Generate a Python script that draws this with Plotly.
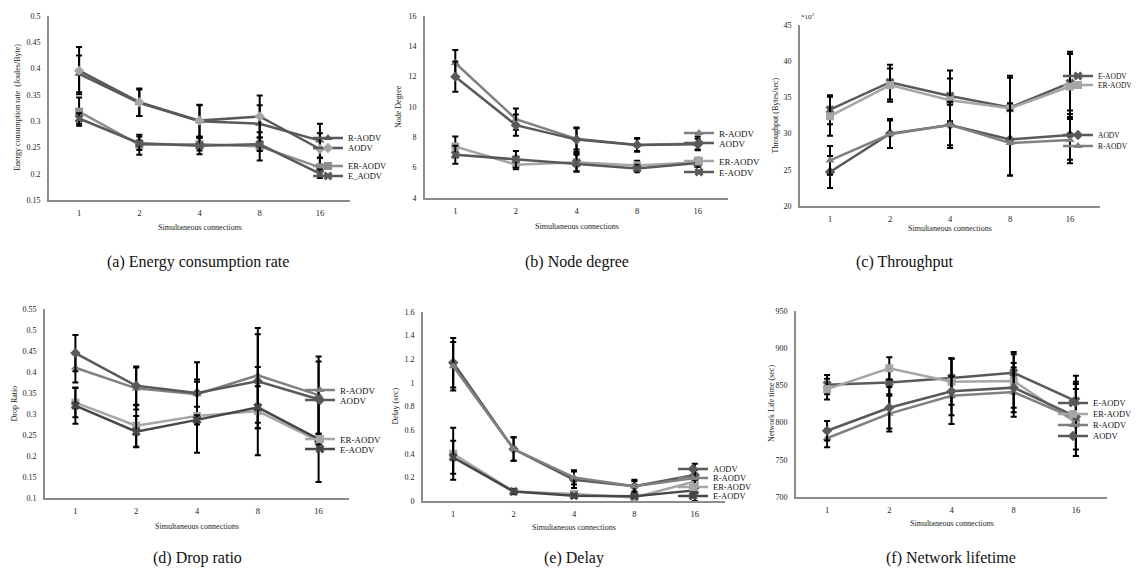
import plotly.graph_objects as go

OFF = 8  # page body margin in the browser
W, H = 1139 - OFF, 571 - OFF
CATS = ["1", "2", "4", "8", "16"]

# (a) Energy consumption rate
energy_r_aodv = [0.390, 0.335, 0.300, 0.295, 0.263]
energy_r_aodv_err = [0.035, 0.025, 0.030, 0.035, 0.032]
energy_aodv = [0.396, 0.336, 0.301, 0.309, 0.247]
energy_aodv_err = [0.045, 0.026, 0.030, 0.040, 0.030]
energy_er_aodv = [0.318, 0.255, 0.256, 0.252, 0.212]
energy_er_aodv_err = [0.027, 0.019, 0.012, 0.027, 0.018]
energy_e_aodv = [0.305, 0.258, 0.253, 0.256, 0.200]
energy_e_aodv_err = [0.010, 0.013, 0.016, 0.013, 0.008]

# (b) Node degree
degree_r_aodv = [12.9, 9.2, 7.9, 7.5, 7.6]
degree_r_aodv_err = [0.85, 0.7, 0.7, 0.45, 0.45]
degree_aodv = [12.0, 8.8, 7.85, 7.5, 7.55]
degree_aodv_err = [1.0, 0.7, 0.8, 0.4, 0.35]
degree_er_aodv = [7.4, 6.2, 6.35, 6.15, 6.35]
degree_er_aodv_err = [0.65, 0.3, 0.6, 0.3, 0.3]
degree_e_aodv = [6.85, 6.55, 6.3, 5.95, 6.3]
degree_e_aodv_err = [0.6, 0.55, 0.55, 0.25, 0.25]

# (c) Throughput (*10^3 Bytes/sec)
thr_e_aodv = [33.3, 37.1, 35.2, 33.6, 37.0]
thr_e_aodv_err = [2.0, 2.4, 3.5, 4.4, 4.3]
thr_er_aodv = [32.4, 36.7, 34.6, 33.5, 36.5]
thr_er_aodv_err = [2.7, 2.3, 3.0, 4.2, 4.5]
thr_aodv = [24.7, 30.0, 31.2, 29.2, 29.8]
thr_aodv_err = [2.2, 2.0, 3.2, 5.0, 3.4]
thr_r_aodv = [26.3, 29.9, 31.2, 28.7, 29.1]
thr_r_aodv_err = [2.0, 1.9, 2.8, 4.5, 3.2]

# (d) Drop ratio
drop_r_aodv = [0.410, 0.361, 0.347, 0.392, 0.345]
drop_r_aodv_err = [0.035, 0.050, 0.030, 0.113, 0.092]
drop_aodv = [0.445, 0.367, 0.350, 0.378, 0.335]
drop_aodv_err = [0.043, 0.046, 0.073, 0.112, 0.090]
drop_er_aodv = [0.327, 0.272, 0.295, 0.307, 0.236]
drop_er_aodv_err = [0.035, 0.050, 0.087, 0.105, 0.098]
drop_e_aodv = [0.320, 0.258, 0.286, 0.316, 0.240]
drop_e_aodv_err = [0.043, 0.037, 0.011, 0.050, 0.013]

# (e) Delay
delay_aodv = [1.17, 0.44, 0.18, 0.125, 0.22]
delay_aodv_err = [0.21, 0.10, 0.07, 0.055, 0.095]
delay_r_aodv = [1.14, 0.44, 0.20, 0.125, 0.195]
delay_r_aodv_err = [0.205, 0.10, 0.06, 0.045, 0.07]
delay_er_aodv = [0.40, 0.08, 0.06, 0.03, 0.165]
delay_er_aodv_err = [0.22, 0.02, 0.02, 0.01, 0.10]
delay_e_aodv = [0.37, 0.08, 0.045, 0.04, 0.09]
delay_e_aodv_err = [0.14, 0.02, 0.015, 0.01, 0.09]

# (f) Network lifetime
life_e_aodv = [851, 854, 860, 867, 829]
life_e_aodv_err = [13, 16, 26, 28, 34]
life_er_aodv = [845, 873, 855, 856, 800]
life_er_aodv_err = [14, 15, 31, 36, 45]
life_r_aodv = [779, 812, 836, 841, 805]
life_r_aodv_err = [12, 24, 26, 33, 50]
life_aodv = [789, 820, 842, 847, 808]
life_aodv_err = [13, 28, 44, 33, 44]

DARK, MID, LIGHT, DARKER = "#595959", "#808080", "#a6a6a6", "#474747"
SYM = {"R-AODV": "triangle-up", "AODV": "diamond", "ER-AODV": "square",
       "E-AODV": "x", "E_AODV": "x"}
FONT = "Liberation Serif"


def px_x(p):
    return (p - OFF) / W


def px_y(p):
    return 1 - (p - OFF) / H


panels = [
    dict(box=(49, 350, 16, 200), rng=[0.15, 0.5], dtick=0.05,
         ytitle="Energy consumption rate  (Joules/Byte)", ytx=17,
         cap="(a) Energy consumption rate", capx=198, capy=262, xtl=227,
         leg_x=348, leg_fs=8.5,
         series=[("R-AODV", energy_r_aodv, energy_r_aodv_err, DARK, 138, None),
                 ("AODV", energy_aodv, energy_aodv_err, DARK, 148, LIGHT),
                 ("ER-AODV", energy_er_aodv, energy_er_aodv_err, "#8c8c8c", 166, None),
                 ("E_AODV", energy_e_aodv, energy_e_aodv_err, DARK, 176, None)]),
    dict(box=(425, 728, 16, 198), rng=[4, 16], dtick=2,
         ytitle="Node Degree", ytx=398,
         cap="(b) Node degree", capx=577, capy=262, xtl=226,
         leg_x=719, leg_fs=9,
         series=[("R-AODV", degree_r_aodv, degree_r_aodv_err, MID, 133, None),
                 ("AODV", degree_aodv, degree_aodv_err, DARK, 143, None),
                 ("ER-AODV", degree_er_aodv, degree_er_aodv_err, LIGHT, 161, None),
                 ("E-AODV", degree_e_aodv, degree_e_aodv_err, DARK, 172, None)]),
    dict(box=(800, 1100, 25, 206), rng=[20, 45], dtick=5,
         ytitle="Throughput (Bytes/sec)", ytx=775,
         cap="(c) Throughput", capx=905, capy=262, xtl=229,
         leg_x=1098, leg_fs=7.5,
         series=[("E-AODV", thr_e_aodv, thr_e_aodv_err, DARK, 76, None),
                 ("ER-AODV", thr_er_aodv, thr_er_aodv_err, LIGHT, 85, None),
                 ("AODV", thr_aodv, thr_aodv_err, DARK, 135, None),
                 ("R-AODV", thr_r_aodv, thr_r_aodv_err, MID, 146, None)]),
    dict(box=(45, 349, 309, 498), rng=[0.1, 0.55], dtick=0.05,
         ytitle="Drop Ratio", ytx=14,
         cap="(d) Drop ratio", capx=198, capy=558, xtl=526,
         leg_x=340, leg_fs=9,
         series=[("R-AODV", drop_r_aodv, drop_r_aodv_err, MID, 390, None),
                 ("AODV", drop_aodv, drop_aodv_err, DARK, 400, None),
                 ("ER-AODV", drop_er_aodv, drop_er_aodv_err, LIGHT, 439, None),
                 ("E-AODV", drop_e_aodv, drop_e_aodv_err, DARKER, 449, None)]),
    dict(box=(423, 725, 312, 501), rng=[0, 1.6], dtick=0.2,
         ytitle="Delay (sec)", ytx=395,
         cap="(e) Delay", capx=574, capy=558, xtl=527,
         leg_x=713, leg_fs=8.5,
         series=[("AODV", delay_aodv, delay_aodv_err, DARK, 469, None),
                 ("R-AODV", delay_r_aodv, delay_r_aodv_err, MID, 478, None),
                 ("ER-AODV", delay_er_aodv, delay_er_aodv_err, LIGHT, 487, None),
                 ("E-AODV", delay_e_aodv, delay_e_aodv_err, DARKER, 496, None)]),
    dict(box=(796, 1107, 311, 497), rng=[700, 950], dtick=50,
         ytitle="Network Life time (sec)", ytx=771,
         cap="(f) Network lifetime", capx=951, capy=558, xtl=523,
         leg_x=1093, leg_fs=8.5,
         series=[("E-AODV", life_e_aodv, life_e_aodv_err, DARK, 403, None),
                 ("ER-AODV", life_er_aodv, life_er_aodv_err, LIGHT, 414, None),
                 ("R-AODV", life_r_aodv, life_r_aodv_err, MID, 425, None),
                 ("AODV", life_aodv, life_aodv_err, DARK, 436, None)]),
]

fig = go.Figure()
layout = {}
annotations = []
leg_n = 1


def ann(text, x, y, size, color="#222", angle=0):
    return dict(text=text, textangle=angle, xref="paper", yref="paper",
                x=px_x(x), y=px_y(y), xanchor="center", yanchor="middle",
                showarrow=False, font=dict(family=FONT, size=size, color=color))


for i, p in enumerate(panels):
    k = "" if i == 0 else str(i + 1)
    x0, x1, yt, yb = p["box"]
    layout["xaxis" + k] = dict(
        domain=[px_x(x0), px_x(x1)], anchor="y" + k, type="category",
        categoryorder="array", categoryarray=CATS, range=[-0.5, 4.5],
        showline=True, linecolor="#8c8c8c", linewidth=2, ticks="",
        showgrid=False, zeroline=False, fixedrange=True,
        tickfont=dict(family=FONT, size=8.5, color="#222"), ticklabelstandoff=4)
    layout["yaxis" + k] = dict(
        domain=[px_y(yb), px_y(yt)], anchor="x" + k, range=p["rng"],
        dtick=p["dtick"], tick0=p["rng"][0],
        showline=True, linecolor="#8c8c8c", linewidth=2, ticks="",
        showgrid=False, zeroline=False, fixedrange=True,
        tickfont=dict(family=FONT, size=8, color="#222"), ticklabelstandoff=5)
    annotations.append(ann(p["ytitle"], p["ytx"], (yt + yb) / 2, 8, angle=-90))
    annotations.append(ann("Simultaneous connections", (x0 + x1) / 2, p["xtl"], 8))
    annotations.append(ann(p["cap"], p["capx"], p["capy"], 16, color="#111"))
    for name, vals, errs, col, ly, mcol in p["series"]:
        lname = "legend" if leg_n == 1 else "legend%d" % leg_n
        fig.add_trace(go.Scatter(
            x=CATS, y=vals, name=name, mode="lines+markers",
            xaxis="x" + k, yaxis="y" + k, legend=lname,
            line=dict(color=col, width=2.5),
            marker=dict(symbol=SYM[name], size=8, color=mcol or col,
                        line=dict(width=0)),
            error_y=dict(type="data", array=errs, visible=True,
                         color="black", thickness=2, width=3),
            cliponaxis=False))
        layout[lname] = dict(
            x=px_x(p["leg_x"] - 40), y=px_y(ly), xanchor="left",
            yanchor="middle", bgcolor="rgba(0,0,0,0)", borderwidth=0,
            font=dict(family=FONT, size=p["leg_fs"], color="#111"),
            itemwidth=30, tracegroupgap=0)
        leg_n += 1

annotations.append(ann("*10<sup>3</sup>", 808, 16, 7))

fig.update_layout(
    width=W, height=H, margin=dict(l=0, r=0, t=0, b=0, autoexpand=False),
    paper_bgcolor="white", plot_bgcolor="white", showlegend=True,
    annotations=annotations, **layout)

fig.write_html("out.html")
